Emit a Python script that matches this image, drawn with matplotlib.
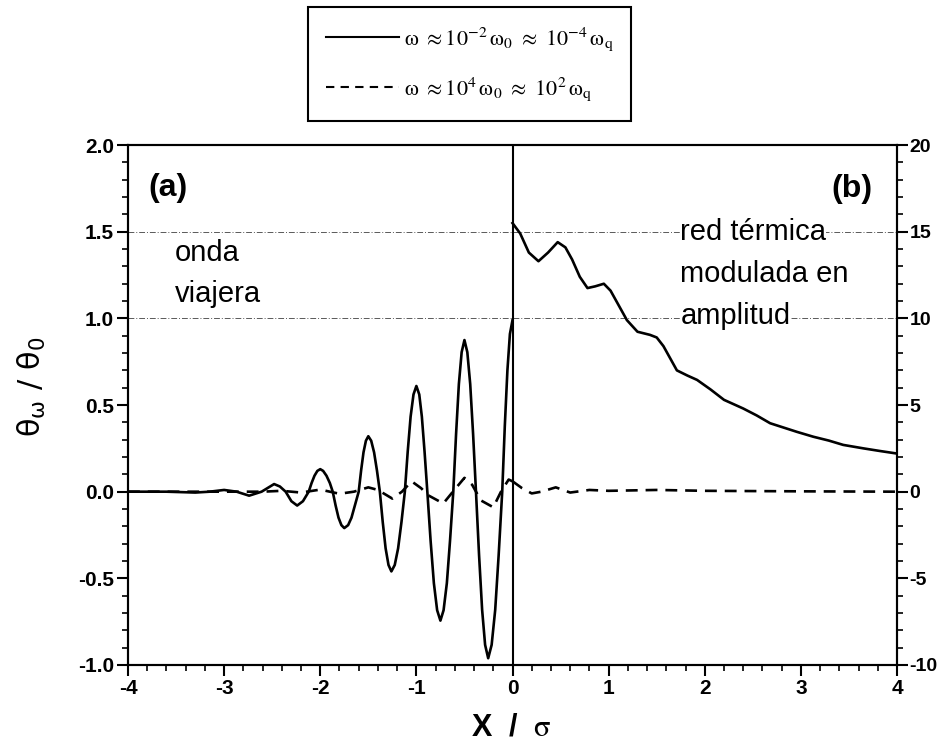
import matplotlib
matplotlib.use("Agg")
import matplotlib.pyplot as plt
from matplotlib.ticker import MultipleLocator
from matplotlib.lines import Line2D

plt.rcParams['font.family'] = ['Liberation Sans', 'DejaVu Sans']
plt.rcParams['axes.unicode_minus'] = False

#%% ─── Data ─────────────────────────────────────────────────────────────────

# x < 0 : travelling wave (left axis, theta_w / theta_0)
x_wave_lo = [-4.0, -3.6, -3.3, -3.15, -3.0, -2.87, -2.74, -2.61, -2.48, -2.42,
             -2.36, -2.30, -2.24, -2.18,
             -2.12, -2.09, -2.06, -2.03, -2.0, -1.97, -1.935, -1.90,
             -1.87, -1.84, -1.81, -1.78, -1.75, -1.71, -1.675, -1.64,
             -1.60, -1.575, -1.55, -1.525, -1.50, -1.47, -1.44, -1.41,
             -1.38, -1.35, -1.32, -1.29, -1.26, -1.225, -1.19, -1.155,
             -1.12, -1.09, -1.06, -1.03, -1.0, -0.97, -0.943, -0.915,
             -0.886, -0.852, -0.818, -0.784, -0.75, -0.717, -0.683, -0.65,
             -0.616, -0.587, -0.558, -0.529, -0.50, -0.47, -0.44, -0.41,
             -0.38, -0.348, -0.316, -0.285, -0.253, -0.217, -0.18, -0.144,
             -0.107, -0.08, -0.053, -0.027, 0.0]
y_wave_lo = [0.0, 0.0, -0.005, 0.0, 0.01, 0.0, -0.023, 0.0, 0.044, 0.03,
             0.0, -0.055, -0.08, -0.055,
             0.0, 0.05, 0.092, 0.12, 0.13, 0.12, 0.092, 0.05,
             0.0, -0.08, -0.15, -0.193, -0.21, -0.193, -0.15, -0.08,
             0.0, 0.122, 0.227, 0.294, 0.32, 0.294, 0.227, 0.122,
             0.0, -0.175, -0.327, -0.423, -0.46, -0.423, -0.327, -0.175,
             0.0, 0.232, 0.433, 0.561, 0.61, 0.561, 0.433, 0.232,
             0.0, -0.283, -0.528, -0.684, -0.744, -0.684, -0.528, -0.283,
             0.0, 0.333, 0.621, 0.805, 0.875, 0.805, 0.621, 0.333,
             0.0, -0.365, -0.682, -0.884, -0.961, -0.884, -0.682, -0.365,
             0.0, 0.38, 0.70, 0.91, 0.99]

x_wave_hi = [-4.0, -2.6, -2.4, -2.2, -2.0, -1.8, -1.65, -1.5, -1.4, -1.25,
             -1.15, -1.05, -0.95, -0.88, -0.72, -0.62, -0.5, -0.42, -0.33, -0.2,
             -0.12, -0.04, 0.0]
y_wave_hi = [0.0, 0.0, 0.005, -0.005, 0.012, -0.012, 0.0, 0.025, 0.01, -0.04,
             0.0, 0.06, 0.02, -0.02, -0.068, 0.0, 0.08, 0.04, -0.05, -0.09,
             0.0, 0.07, 0.06]

# x > 0 : amplitude-modulated thermal grating (right axis)
x_grid_lo = [0.0, 0.08, 0.17, 0.27, 0.37, 0.47, 0.55, 0.62, 0.70, 0.78,
             0.86, 0.95, 1.02, 1.09, 1.19, 1.30, 1.43, 1.50, 1.57, 1.71,
             1.82, 1.92, 2.06, 2.20, 2.40, 2.54, 2.68, 2.82, 2.96, 3.13,
             3.29, 3.44, 3.65, 3.82, 4.0]
y_grid_lo = [15.5, 14.9, 13.8, 13.3, 13.8, 14.4, 14.1, 13.4, 12.4, 11.75,
             11.85, 12.0, 11.6, 10.9, 9.9, 9.23, 9.05, 8.9, 8.4, 7.0,
             6.7, 6.45, 5.9, 5.3, 4.8, 4.4, 3.95, 3.7, 3.45, 3.17,
             2.95, 2.7, 2.5, 2.35, 2.2]

x_grid_hi = [0.0, 0.1, 0.2, 0.3, 0.45, 0.6, 0.8, 1.0, 1.5, 2.0, 3.0, 4.0]
y_grid_hi = [0.6, 0.2, -0.1, 0.0, 0.25, -0.05, 0.1, 0.05, 0.1, 0.05, 0.02, 0.0]

labels = [r'$\mathrm{\omega}\ \approx 10^{-2}\,\mathrm{\omega}_{0}\ \approx\ 10^{-4}\,\mathrm{\omega}_{\mathrm{q}}$',
          r'$\mathrm{\omega}\ \approx 10^{4}\,\mathrm{\omega}_{0}\ \approx\ 10^{2}\,\mathrm{\omega}_{\mathrm{q}}$']

#%% ─── Figure ───────────────────────────────────────────────────────────────

LW = 1.9
DASH = (0, (4.5, 3))

fig = plt.figure(figsize=(9.39, 7.48), dpi=100)
ax = fig.add_axes([0.1363, 0.111, 0.819, 0.695])
ax2 = ax.twinx()

# reference levels
for lev in (1.5, 1.0):
    ax.axhline(lev, color='0.35', lw=0.7, ls=(0, (6, 2, 1, 2)), zorder=1)

ax.axvline(0, color='black', lw=1.5, zorder=2)

ax.plot(x_wave_lo, y_wave_lo, color='black', lw=LW, zorder=3)
ax.plot(x_wave_hi, y_wave_hi, color='black', lw=LW, ls=DASH, zorder=3)
ax2.plot(x_grid_lo, y_grid_lo, color='black', lw=LW, zorder=3)
ax2.plot(x_grid_hi, y_grid_hi, color='black', lw=LW, ls=DASH, zorder=3)

ax.set_xlim(-4, 4)
ax.set_ylim(-1.0, 2.0)
ax2.set_ylim(-10, 20)

ax.xaxis.set_major_locator(MultipleLocator(1))
ax.xaxis.set_minor_locator(MultipleLocator(0.2))
ax.yaxis.set_major_locator(MultipleLocator(0.5))
ax.yaxis.set_minor_locator(MultipleLocator(0.1))
ax2.yaxis.set_major_locator(MultipleLocator(5))
ax2.yaxis.set_minor_locator(MultipleLocator(1))
ax.yaxis.set_major_formatter(plt.FormatStrFormatter('%.1f'))

for a in (ax, ax2):
    for s in a.spines.values():
        s.set_linewidth(1.5)
    a.tick_params(which='major', length=8, width=1.5, direction='out',
                  labelsize=15, pad=2)
    a.tick_params(which='minor', length=4, width=1.2, direction='out')
ax2.tick_params(which='major', labelsize=14, pad=1)
for lab in ax.get_xticklabels() + ax.get_yticklabels() + ax2.get_yticklabels():
    lab.set_fontweight('bold')

# annotations
ax.text(-3.79, 1.705, '(a)', fontsize=23, fontweight='bold', va='baseline')
ax.text(3.75, 1.70, '(b)', fontsize=23, fontweight='bold', va='baseline', ha='right')
ax.text(-3.51, 1.331, 'onda', fontsize=21, va='baseline')
ax.text(-3.51, 1.095, 'viajera', fontsize=21, va='baseline')
bb = dict(facecolor='white', edgecolor='none', pad=0)
ax.text(1.745, 1.451, 'red térmica', fontsize=21, va='baseline', bbox=bb, zorder=4)
ax.text(1.745, 1.21, 'modulada en', fontsize=21, va='baseline', zorder=4)
ax.text(1.745, 0.968, 'amplitud', fontsize=21, va='baseline', bbox=bb, zorder=4)

# axis titles
t = fig.text(0.034, 0.483, r'$\mathrm{\theta}_{\mathrm{\omega}}\ /\ \mathrm{\theta}_{0}$',
             rotation=90, fontsize=22, ha='center', va='center')
t.set_math_fontfamily('dejavusans')
t = fig.text(0.545, 0.028, 'X  /  $\\mathrm{\\sigma}$', fontsize=22, fontweight='bold',
             ha='center', va='center')
t.set_math_fontfamily('stix')

# legend
handles = [Line2D([], [], color='black', lw=1.5),
           Line2D([], [], color='black', lw=1.5, ls=(0, (4, 3)))]
leg = fig.legend(handles, labels, loc='upper center', bbox_to_anchor=(0.5, 0.991),
                 borderaxespad=0, fontsize=16, frameon=True, fancybox=False,
                 framealpha=1, edgecolor='black', handlelength=3.3,
                 handletextpad=0.2, borderpad=0.8, labelspacing=1.0)
leg.get_frame().set_linewidth(1.5)
for txt in leg.get_texts():
    txt.set_math_fontfamily('stix')

fig.savefig('out.png', dpi=100)
